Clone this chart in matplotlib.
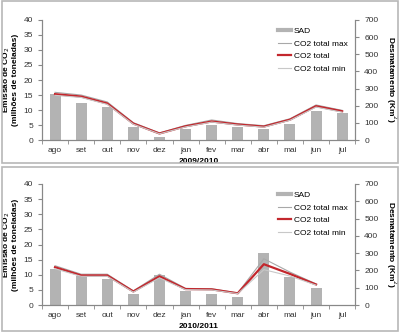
import numpy as np
import matplotlib.pyplot as plt
from matplotlib.patches import Rectangle
from matplotlib.lines import Line2D

plt.rcParams['font.family'] = ['Liberation Sans', 'DejaVu Sans']

meses = ['ago', 'set', 'out', 'nov', 'dez', 'jan', 'fev', 'mar', 'abr', 'mai', 'jun', 'jul']

# 2009/2010
sad_0910 = [271, 215, 192, 75, 17, 63, 88, 75, 65, 95, 172, 155]
co2_0910 = [15.3, 14.5, 12.2, 5.5, 2.2, 4.6, 6.2, 5.2, 4.5, 6.8, 11.3, 9.6]
co2max_0910 = [15.9, 15.0, 12.7, 5.8, 2.4, 4.9, 6.7, 5.5, 4.8, 7.1, 11.7, 9.9]
co2min_0910 = [14.9, 14.2, 11.9, 5.3, 2.1, 4.4, 6.0, 5.0, 4.3, 6.6, 11.0, 9.3]

# 2010/2011 (jul sem dados)
sad_1011 = [210, 166, 152, 66, 175, 84, 65, 45, 300, 165, 100, np.nan]
co2_1011 = [12.5, 9.8, 9.8, 4.5, 9.5, 5.3, 5.2, 3.9, 13.5, 10.3, 6.8, np.nan]
co2max_1011 = [13.0, 10.2, 10.2, 4.7, 10.2, 5.5, 5.4, 4.0, 15.3, 10.9, 7.0, np.nan]
co2min_1011 = [12.0, 9.5, 9.5, 4.3, 9.0, 5.1, 5.0, 3.8, 11.7, 9.6, 6.6, np.nan]

fig = plt.figure(figsize=(4, 3.32), dpi=100)

# molduras dos dois painéis
for y0, h in [(0.508, 0.488), (0.004, 0.494)]:
    fig.patches.append(Rectangle((0.004, y0), 0.992, h, transform=fig.transFigure,
                                 fill=False, edgecolor='#b8b8b8', lw=1.2))


def painel(rect, sad, co2, cmax, cmin, titulo):
    ax = fig.add_axes(rect)
    ax2 = ax.twinx()
    x = np.arange(len(meses))
    ax2.bar(x, sad, width=0.42, color='#b3b3b3', zorder=1)
    ax.set_zorder(ax2.get_zorder() + 1)
    ax.patch.set_visible(False)
    ax.plot(x, cmax, color='#a8a8a8', lw=0.8)
    ax.plot(x, co2, color='#c3272d', lw=1.6)
    ax.plot(x, cmin, color='#c8c8c8', lw=0.8)
    ax.set_ylim(0, 40)
    ax2.set_ylim(0, 700)
    ax.set_xlim(-0.5, len(meses) - 0.5)
    ax.set_yticks(range(0, 41, 5))
    ax2.set_yticks(range(0, 701, 100))
    ax.set_xticks(x)
    ax.set_xticklabels(meses)
    ax.set_xticks(np.arange(-0.5, len(meses), 1), minor=True)
    ax.tick_params(axis='x', which='major', length=0, pad=5)
    ax.tick_params(axis='x', which='minor', length=3, color='#888888')
    for a in (ax, ax2):
        a.tick_params(axis='y', labelsize=6, length=3, color='#888888', labelcolor='#333333')
        for s in a.spines.values():
            s.set_color('#888888')
            s.set_linewidth(0.8)
        a.spines['top'].set_visible(False)
    ax.tick_params(axis='x', labelsize=6, labelcolor='#333333')
    ax.set_ylabel('Emissão de CO$_2$\n(milhões de toneladas)', fontsize=6,
                  fontweight='bold', labelpad=3, linespacing=1.0)
    ax2.set_ylabel('Desmatamento (Km$^2$)', fontsize=6, fontweight='bold',
                   rotation=-90, labelpad=14)
    ax.set_xlabel(titulo, fontsize=6, fontweight='bold', labelpad=3)

    hs = [Line2D([], [], color='#b3b3b3', lw=3),
          Line2D([], [], color='#a8a8a8', lw=0.8),
          Line2D([], [], color='#c3272d', lw=1.6),
          Line2D([], [], color='#c8c8c8', lw=0.8)]
    ax.legend(hs, ['SAD', 'CO2 total max', 'CO2 total', 'CO2 total min'],
              loc='upper right', bbox_to_anchor=(1.0, 1.0), fontsize=6, frameon=False,
              handlelength=1.6, handletextpad=0.3, labelspacing=0.55)


painel([0.105, 0.578, 0.783, 0.362], sad_0910, co2_0910, co2max_0910, co2min_0910, '2009/2010')
painel([0.105, 0.081, 0.783, 0.365], sad_1011, co2_1011, co2max_1011, co2min_1011, '2010/2011')

fig.savefig('out.png', dpi=100)
